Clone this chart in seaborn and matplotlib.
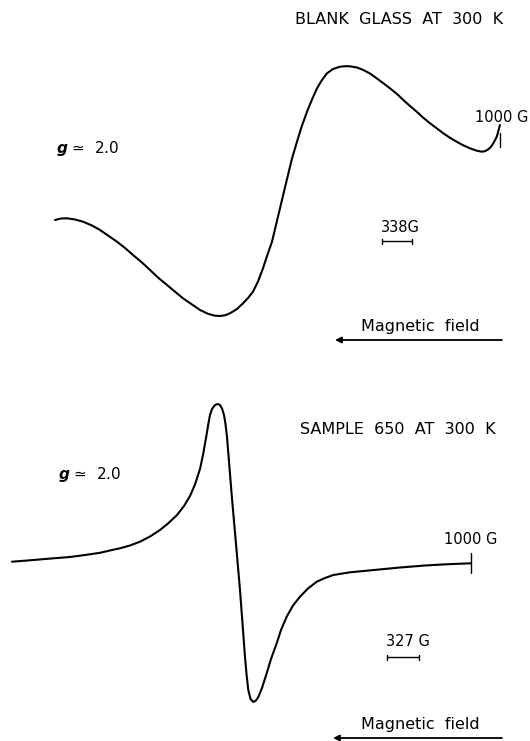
import numpy as np
import pandas as pd
import seaborn as sns
import matplotlib
matplotlib.use("Agg")
import matplotlib.pyplot as plt

# Traced spectra (picture coordinates: x across, y down)
top_x = [55, 61, 67, 75, 83, 92, 100, 108, 117, 125, 133, 142, 150, 158, 167, 175, 183, 192, 200, 208, 215, 220, 225, 230, 237, 243, 248, 253, 258, 263, 267, 272, 276, 280, 284, 288, 292, 297, 301, 307, 312, 317, 322, 327, 333, 340, 345, 350, 357, 363.3, 370, 376.7, 383, 390, 397, 403.3, 410, 416.7, 423, 430, 437, 443.3, 450, 456.7, 463, 470, 476, 481.7, 485, 488.3, 491, 493.3, 495, 496.7, 498, 499, 500]
top_y = [220, 218.5, 218.3, 219.5, 221.7, 225.5, 230, 235.5, 241.7, 248, 255, 262.5, 270, 277.5, 285, 291.7, 298.3, 304.5, 310, 313.8, 315.7, 316, 315.3, 313.3, 309, 303.3, 298, 291.7, 281.5, 268.3, 256, 241.7, 225, 208.3, 191.5, 175, 158.5, 141.7, 128.5, 111.7, 99.5, 88.3, 80, 73.3, 69, 66.7, 66.2, 66.3, 67.5, 70, 73.5, 78.3, 83, 88.3, 94, 100, 106, 111.7, 117.5, 123.3, 128.5, 133.3, 137.8, 141.7, 145.2, 148.3, 150.5, 151.7, 151.2, 149.3, 146.8, 143.3, 140.2, 136.7, 132.5, 128.3, 125]

bot_x = [12, 30, 51, 70, 85, 100, 112, 120, 130, 140, 150, 160, 168, 177, 184, 190, 195, 200, 203, 206.7, 208.5, 210, 212, 215, 217.5, 220, 222, 224, 225.5, 227, 231.7, 236.7, 240, 243, 245, 246.7, 248.3, 250.5, 253.3, 256, 258.3, 262, 266.7, 271, 276.7, 281, 286.7, 293, 300, 308, 316.7, 325, 333.3, 350, 374, 400, 425, 448, 471]
bot_y = [561.7, 560.3, 558.5, 557, 555, 552.8, 550, 548.3, 545.5, 541.7, 536.5, 530, 523.5, 515, 506, 496, 484.5, 469, 455, 434, 423, 415, 409, 405, 404, 405, 408.5, 415, 424, 437, 495, 552, 590, 630, 657, 676, 690, 699, 702, 700.5, 697, 688, 673.3, 659, 643.3, 630, 616.7, 605.5, 596.7, 588.5, 581.7, 578, 575, 572.3, 570, 567.5, 565.5, 564.2, 563.3]

# Annotations
titles = ["BLANK  GLASS  AT  300  K", "SAMPLE  650  AT  300  K"]
scale_labels = ["338G", "327 G"]
sweep_label = "1000 G"
g_label = r"$\boldsymbol{g}$" + " \u2243  2.0"
field_label = "Magnetic  field"

sns.set_theme(style="white")
plt.rcParams['font.family'] = ['DejaVu Sans']
plt.rcParams['mathtext.fontset'] = 'dejavusans'

fig = plt.figure(figsize=(5.30, 7.41), dpi=100)
ax = fig.add_axes([0, 0, 1, 1])

top_df = pd.DataFrame({"x": top_x, "y": top_y})
bot_df = pd.DataFrame({"x": bot_x, "y": bot_y})
sns.lineplot(data=top_df, x="x", y="y", sort=False, color="black", lw=1.5, ax=ax, estimator=None)
sns.lineplot(data=bot_df, x="x", y="y", sort=False, color="black", lw=1.5, ax=ax, estimator=None)

# 1000 G end ticks
ax.plot([500, 500], [133, 147], color="black", lw=1.0)
ax.plot([471, 471], [553, 573], color="black", lw=1.0)

# scale bars
for (x0, x1, yb) in [(382, 412, 241), (387, 419, 657)]:
    ax.plot([x0, x1], [yb, yb], color="black", lw=1.0)
    ax.plot([x0, x0], [yb - 2.5, yb + 2.5], color="black", lw=1.0)
    ax.plot([x1, x1], [yb - 2.5, yb + 2.5], color="black", lw=1.0)

# magnetic-field arrows
for (xs, xe, ya) in [(502, 335, 340), (502, 333, 738)]:
    ax.annotate("", xy=(xe, ya), xytext=(xs, ya),
                arrowprops=dict(arrowstyle="-|>", color="black", lw=1.3,
                                mutation_scale=9, shrinkA=0, shrinkB=0))

kw = dict(color="black", va="center")
ax.text(503, 19, titles[0], ha="right", fontsize=11.5, **kw)
ax.text(496, 430, titles[1], ha="right", fontsize=11.5, **kw)
ax.text(528, 117, sweep_label, ha="right", fontsize=10.5, **kw)
ax.text(497, 540, sweep_label, ha="right", fontsize=10.5, **kw)
ax.text(56, 148, g_label, ha="left", fontsize=11, **kw)
ax.text(58, 475, g_label, ha="left", fontsize=11, **kw)
ax.text(400, 228, scale_labels[0], ha="center", fontsize=10.5, **kw)
ax.text(408, 642, scale_labels[1], ha="center", fontsize=10.5, **kw)
ax.text(420, 327, field_label, ha="center", fontsize=11.5, **kw)
ax.text(420, 725, field_label, ha="center", fontsize=11.5, **kw)

ax.set_xlim(0, 530)
ax.set_ylim(741, 0)
ax.axis("off")
fig.savefig("out.png", dpi=100, facecolor="white")
